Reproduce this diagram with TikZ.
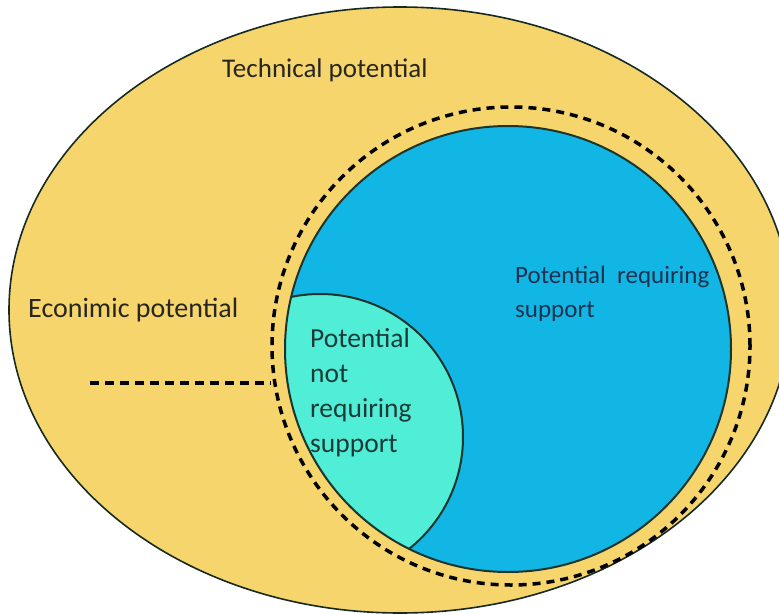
\documentclass[tikz,border=0pt]{standalone}
\usepackage{fontspec}
\setmainfont{Carlito}
\usetikzlibrary{shapes.geometric}
\definecolor{outeryellow}{RGB}{246,213,108}
\definecolor{bluefill}{RGB}{18,182,228}
\definecolor{tealfill}{RGB}{80,238,214}
\definecolor{edgedark}{RGB}{28,52,44}
\definecolor{textdark}{RGB}{40,38,34}
\definecolor{textnavy}{RGB}{28,50,80}
\definecolor{textteal}{RGB}{28,58,56}
\tikzset{
  lbl/.style={inner sep=0pt, anchor=base west, align=left},
  dashline/.style={draw=black, line width=3.5pt, dash pattern=on 8pt off 6pt},
}
\begin{document}
\begin{tikzpicture}[x=1pt,y=-1pt]
\useasboundingbox (0,0) rectangle (779,615);
\begin{scope}
\clip (0,0) rectangle (779,615);
\node[ellipse, draw=edgedark!80!black, line width=1.6pt, fill=outeryellow,
      minimum width=782pt, minimum height=606pt, inner sep=0pt] (outer) at (400,310) {};
\end{scope}
\node[circle, dashline, minimum size=478pt, inner sep=0pt] (dc) at (511,346) {};
\node[circle, fill=bluefill, minimum size=446pt, inner sep=0pt] (blue) at (508,349) {};
\begin{scope}
\clip (508,349) circle (223pt);
\fill[tealfill] (320,437) circle (143pt);
\draw[edgedark, line width=2pt] (320,437) circle (143pt);
\end{scope}
\node[circle, draw=edgedark, line width=2pt, minimum size=446pt, inner sep=0pt] (blueedge) at (508,349) {};
\coordinate (dashstart) at (90,383);
\draw[dashline, dash pattern=on 9pt off 6pt] (dashstart) -- (dashstart -| dc.west);
\node[lbl, text=textdark, font=\fontsize{27}{35}\selectfont] (tech) at (222,78) {Technical potential};
\node[lbl, text=textdark, font=\fontsize{28}{35}\selectfont] (econ) at (28,317) {Econimic potential};
\node[lbl, text=textnavy, font=\fontsize{25}{34}\selectfont] (req) at (515,317) {Potential\ \ requiring\\support};
\node[lbl, text=textteal, font=\fontsize{27.5}{35}\selectfont] (notreq) at (310,452) {Potential\\not\\requiring\\support};
\end{tikzpicture}
\end{document}
